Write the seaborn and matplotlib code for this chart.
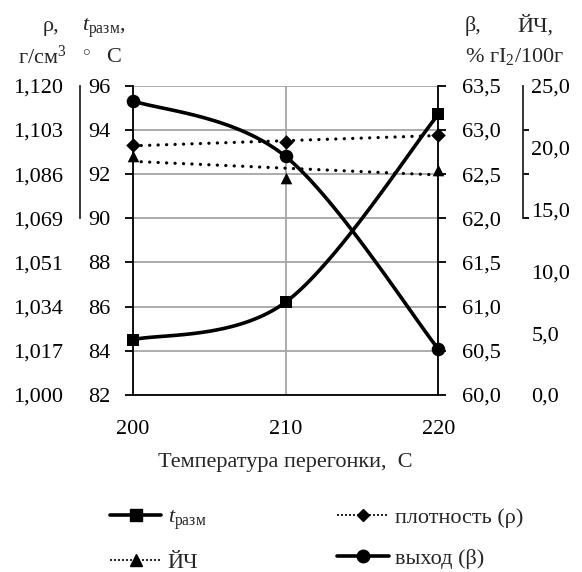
import numpy as np
import matplotlib
matplotlib.use("Agg")
import matplotlib.pyplot as plt
from matplotlib.lines import Line2D
from matplotlib.ticker import FixedLocator, FuncFormatter
import seaborn as sns

# Distillation temperature, °C
temperature = [200, 210, 220]
# Softening temperature t_разм, °C
t_razm = [84.5, 86.2, 94.7]
# Density ρ, g/cm3
density = [1.097, 1.098, 1.101]
# Iodine number ЙЧ, g I2 / 100 g
iodine_number = [19.3, 17.5, 18.2]
# Yield β, %
yield_pct = [63.33, 62.70, 60.52]

x_ticks = [200, 210, 220]
t_ticks = [82, 84, 86, 88, 90, 92, 94, 96]
beta_ticks = [60.0, 60.5, 61.0, 61.5, 62.0, 62.5, 63.0, 63.5]
iodine_ticks = [0, 5, 10, 15, 20, 25]
rho_range = (1.000, 1.120)

sns.set_style("white")
plt.rcParams["font.family"] = ["Liberation Serif", "DejaVu Serif"]
plt.rcParams["mathtext.fontset"] = "custom"
plt.rcParams["mathtext.rm"] = "Liberation Serif"
plt.rcParams["mathtext.it"] = "Liberation Serif:italic"
FS = 16

W, H = 582, 572
fig = plt.figure(figsize=(W / 100, H / 100), dpi=100)
ax = fig.add_axes([132.7 / W, 1 - 395 / H, (438.3 - 132.7) / W, (395 - 85.7) / H])


def comma(fmt):
    return FuncFormatter(lambda v, p: format(v, fmt).replace(".", ","))


def smooth_path(x, y, n=60):
    """Piecewise cubic Bezier through the points (Excel-style smoothed line)."""
    pts = np.column_stack([x, y]).astype(float)
    ext = np.vstack([pts[0], pts, pts[-1]])
    out = []
    for i in range(len(pts) - 1):
        p0, p1 = ext[i + 1], ext[i + 2]
        c1 = p0 + (ext[i + 2] - ext[i]) / 6
        c2 = p1 - (ext[i + 3] - ext[i + 1]) / 6
        s = np.linspace(0, 1, n)[:, None]
        seg = (1 - s) ** 3 * p0 + 3 * (1 - s) ** 2 * s * c1 + 3 * (1 - s) * s ** 2 * c2 + s ** 3 * p1
        out.append(seg if i == 0 else seg[1:])
    return np.vstack(out)


grid_color = "#a6a6a6"
dots = (0, (0.05, 2.6))

# ---- main axis: softening temperature (left, inner) ----
ax.set_xlim(200, 220)
ax.set_ylim(t_ticks[0], t_ticks[-1])
ax.set_xticks(x_ticks)
ax.set_yticks(t_ticks)
ax.grid(True, color=grid_color, lw=1.3)
ax.set_axisbelow(True)
for side in ["top", "right"]:
    ax.spines[side].set_visible(False)
for side in ["left", "bottom"]:
    ax.spines[side].set_linewidth(1.3)
    ax.spines[side].set_color("black")
ax.tick_params(axis="y", direction="out", length=6, width=1.3, pad=10, labelsize=FS, colors="black")
ax.tick_params(axis="x", direction="out", length=6, width=1.3, pad=12, labelsize=FS, colors="black")
ax.set_xlabel("Температура перегонки,  C", fontsize=FS, labelpad=10)

p = smooth_path(temperature, t_razm)
sns.lineplot(x=p[:, 0], y=p[:, 1], ax=ax, color="black", lw=2.6, sort=False, estimator=None)
sns.scatterplot(x=temperature, y=t_razm, ax=ax, marker="s", s=70, color="black",
                linewidth=0, clip_on=False, zorder=5)

# ---- yield β (right, inner) ----
ax_b = ax.twinx()
ax_b.set_ylim(beta_ticks[0], beta_ticks[-1])
ax_b.yaxis.set_major_locator(FixedLocator(beta_ticks))
ax_b.yaxis.set_major_formatter(comma(".1f"))
for side in ["top", "left", "bottom"]:
    ax_b.spines[side].set_visible(False)
ax_b.spines["right"].set_linewidth(1.3)
ax_b.spines["right"].set_color("black")
ax_b.tick_params(axis="y", direction="out", length=6, width=1.3, pad=11, labelsize=FS, colors="black")

p = smooth_path(temperature, yield_pct)
sns.lineplot(x=p[:, 0], y=p[:, 1], ax=ax_b, color="black", lw=2.6, sort=False, estimator=None)
sns.scatterplot(x=temperature, y=yield_pct, ax=ax_b, marker="o", s=95, color="black",
                linewidth=0, clip_on=False, zorder=5)

# ---- density ρ (left, outer) ----
ax_r = ax.twinx()
ax_r.set_ylim(*rho_range)
rho_ticks = np.linspace(rho_range[0], rho_range[1], len(t_ticks))
ax_r.yaxis.set_ticks_position("left")
ax_r.yaxis.set_major_locator(FixedLocator(rho_ticks))
ax_r.yaxis.set_major_formatter(comma(".3f"))
ax_r.yaxis.set_minor_locator(FixedLocator(rho_ticks[-4:]))
for side in ["top", "right", "bottom"]:
    ax_r.spines[side].set_visible(False)
ax_r.spines["left"].set_position(("outward", 38))
ax_r.spines["left"].set_bounds(rho_ticks[-4], rho_ticks[-1])
ax_r.spines["left"].set_linewidth(1.3)
ax_r.tick_params(axis="y", which="major", length=0, pad=12, labelsize=FS, colors="black")
ax_r.tick_params(axis="y", which="minor", direction="in", length=4, width=1.3, color="black")

sns.regplot(x=temperature, y=density, ax=ax_r, scatter=False, ci=None, truncate=True,
            line_kws=dict(color="black", lw=2.3, linestyle=dots, dash_capstyle="round"))
sns.scatterplot(x=temperature, y=density, ax=ax_r, marker="D", s=55, color="black",
                linewidth=0, clip_on=False, zorder=5)
ax_r.set_ylabel("")
ax_r.set_xlabel("")

# ---- iodine number ЙЧ (right, outer) ----
ax_i = ax.twinx()
ax_i.set_ylim(iodine_ticks[0], iodine_ticks[-1])
ax_i.yaxis.set_major_locator(FixedLocator(iodine_ticks))
ax_i.yaxis.set_major_formatter(comma(".1f"))
# bracket marks follow the main grid lines of the upper part
span = (t_ticks[-1] - t_ticks[0])
bracket = [iodine_ticks[0] + (v - t_ticks[0]) / span * (iodine_ticks[-1] - iodine_ticks[0])
           for v in t_ticks[-4:]]
ax_i.yaxis.set_minor_locator(FixedLocator(bracket))
for side in ["top", "left", "bottom"]:
    ax_i.spines[side].set_visible(False)
ax_i.spines["right"].set_position(("outward", 61))
ax_i.spines["right"].set_bounds(bracket[0], bracket[-1])
ax_i.spines["right"].set_linewidth(1.3)
ax_i.tick_params(axis="y", which="major", length=0, pad=6, labelsize=FS, colors="black")
ax_i.tick_params(axis="y", which="minor", direction="out", length=4, width=1.3, color="black")

sns.regplot(x=temperature, y=iodine_number, ax=ax_i, scatter=False, ci=None, truncate=True,
            line_kws=dict(color="black", lw=2.3, linestyle=dots, dash_capstyle="round"))
sns.scatterplot(x=temperature, y=iodine_number, ax=ax_i, marker="^", s=70, color="black",
                linewidth=0, clip_on=False, zorder=5)
ax_i.set_ylabel("")
ax_i.set_xlabel("")

for a in (ax_b, ax_r, ax_i):
    a.set_xlim(200, 220)

# ---- axis titles above the scales ----
def put(x, y, s, size=FS, **kw):
    kw.setdefault("ha", "left")
    kw.setdefault("va", "baseline")
    fig.text(x / W, 1 - y / H, s, fontsize=size, **kw)

put(43, 31.5, "ρ,")
put(82, 31.5, r"$t_{\mathrm{разм}}$,")
put(18, 64, r"г/см$^3$")
put(86.5, 51.5, r"$\circ$", size=11, ha="center", va="center")
put(106, 62, "C")
put(465, 31.5, "β,")
put(517, 31.5, "ЙЧ,")
put(465, 62, r"% гI$_2$/100г")

# ---- legend ----
handles = [
    Line2D([], [], color="black", lw=2.6, marker="s", ms=8),
    Line2D([], [], color="black", lw=1.2, linestyle=(0, (1.2, 1.2)), marker="^", ms=8),
    Line2D([], [], color="black", lw=1.2, linestyle=(0, (1.2, 1.2)), marker="D", ms=6.5),
    Line2D([], [], color="black", lw=2.6, marker="o", ms=9),
]
labels = [r"$t_{\mathrm{разм}}$", "ЙЧ", "плотность (ρ)", "выход (β)"]
fig.legend(handles, labels, ncol=2, loc="upper left", bbox_to_anchor=(110 / W, 1 - 507 / H),
           frameon=False, fontsize=FS, borderpad=0, borderaxespad=0, handlelength=2.3,
           handletextpad=0.3, columnspacing=5.9, labelspacing=0.95)

fig.savefig("out.png", dpi=100)
